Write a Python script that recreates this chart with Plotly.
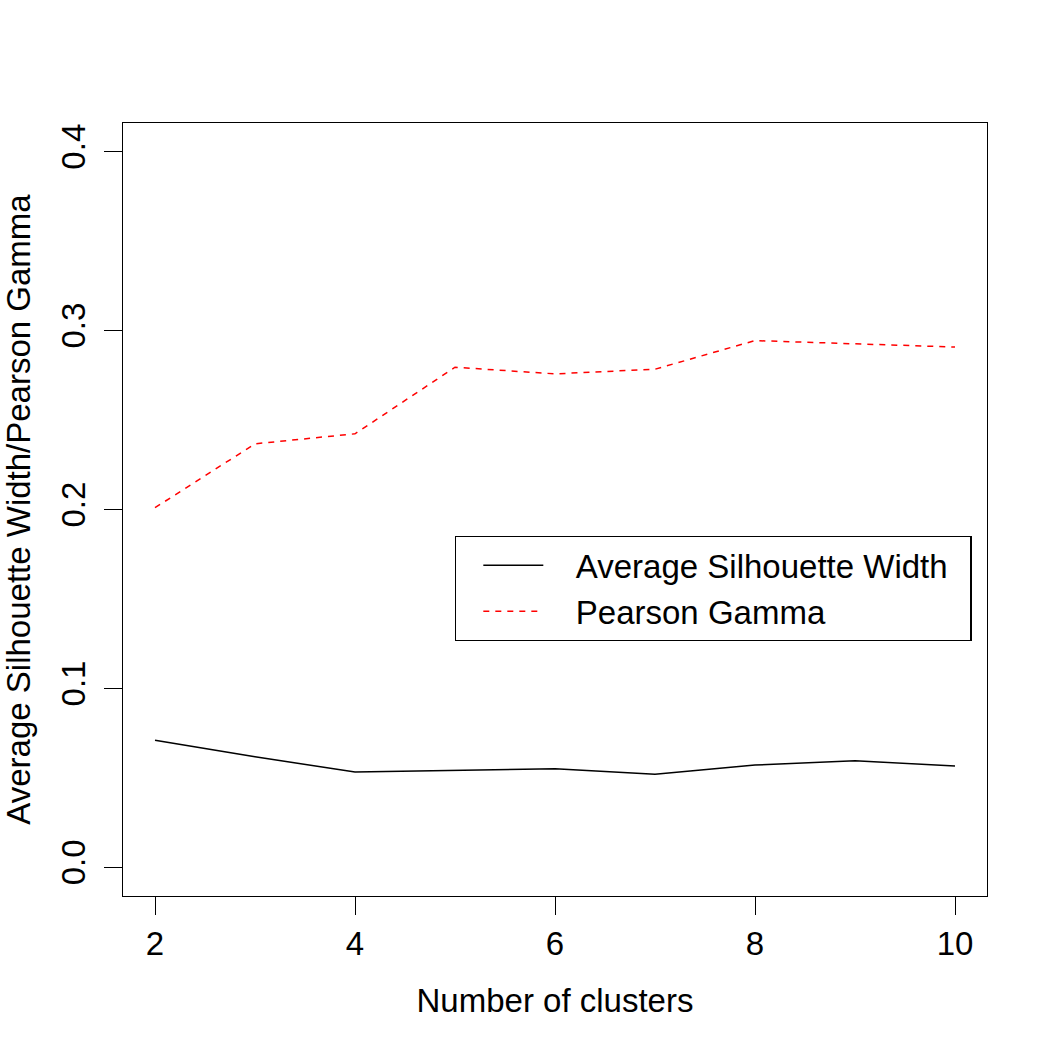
import plotly.graph_objects as go

clusters = [2, 3, 4, 5, 6, 7, 8, 9, 10]
avg_silhouette = [0.0711, 0.0618, 0.0533, 0.0540, 0.0551, 0.0521, 0.0572, 0.0596, 0.0566]
pearson_gamma = [0.2010, 0.2367, 0.2423, 0.2795, 0.2758, 0.2784, 0.2944, 0.2925, 0.2908]
x_ticks = [2, 4, 6, 8, 10]
y_ticks = [0.0, 0.1, 0.2, 0.3, 0.4]
y_tick_labels = ["0.0", "0.1", "0.2", "0.3", "0.4"]
series_names = ["Average Silhouette Width", "Pearson Gamma"]

FONT = "Liberation Sans, Arial, Helvetica, sans-serif"
FS = 33
PAD = "\u00a0" * 3

fig = go.Figure()
fig.add_trace(go.Scatter(
    x=clusters, y=avg_silhouette, mode="lines", name=PAD + series_names[0],
    line=dict(color="black", width=1.5),
))
fig.add_trace(go.Scatter(
    x=clusters, y=pearson_gamma, mode="lines", name=PAD + series_names[1],
    line=dict(color="red", width=1.5, dash="6px,6px"),
))

axis_common = dict(
    showline=True, linecolor="black", linewidth=1.3, mirror=True,
    ticks="outside", ticklen=18, tickwidth=1.3, tickcolor="black",
    showgrid=False, zeroline=False, automargin=False,
    tickfont=dict(family=FONT, size=FS, color="black"),
)

fig.update_layout(
    width=1050, height=1050,
    margin=dict(l=123, r=63, t=123, b=154, autoexpand=False),
    plot_bgcolor="white", paper_bgcolor="white",
    font=dict(family=FONT, size=FS, color="black"),
    xaxis=dict(
        range=[1.68, 10.32], tickvals=x_ticks, ticktext=[str(v) for v in x_ticks],
        title=dict(text="Number of clusters", font=dict(family=FONT, size=FS), standoff=28),
        **axis_common,
    ),
    yaxis=dict(
        range=[-0.016, 0.416], tickvals=y_ticks, ticktext=y_tick_labels, tickangle=-90,
        ticklabelstandoff=6,
        title=dict(text="Average Silhouette Width/Pearson Gamma", font=dict(family=FONT, size=FS), standoff=22),
        **axis_common,
    ),
    legend=dict(
        x=0.384, y=0.4657, xanchor="left", yanchor="top",
        orientation="h", entrywidth=417, entrywidthmode="pixels",
        bordercolor="black", borderwidth=1.3, bgcolor="white",
        font=dict(family=FONT, size=FS, color="black"),
        title=dict(text="\u00a0\u00a0", font=dict(size=22), side="left"),
        itemwidth=60, tracegroupgap=0,
    ),
    showlegend=True,
)

fig.write_html("out.html")
